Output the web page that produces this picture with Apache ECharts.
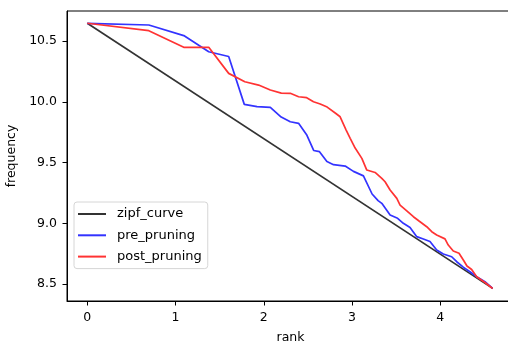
<!DOCTYPE html>
<html>
<head>
<meta charset="utf-8">
<script src="https://cdn.jsdelivr.net/npm/echarts@6/dist/echarts.min.js"></script>
<style>
  html, body { margin: 0; padding: 0; background: #fff; }
  #chart { width: 508px; height: 347px; }
</style>
</head>
<body>
<div id="chart"></div>
<script>
// log(rank) vs log(frequency)
const xTicks = [0, 1, 2, 3, 4];
const yTicks = [8.5, 9.0, 9.5, 10.0, 10.5];

const zipfX = [0, 4.593];
const zipfY = [10.646, 8.466];

const preX = [0, 0.697, 1.093, 1.376, 1.602, 1.779, 1.923, 2.074, 2.197, 2.300,
  2.394, 2.485, 2.565, 2.631, 2.715, 2.790, 2.922, 3.016, 3.129, 3.227,
  3.295, 3.337, 3.431, 3.516, 3.581, 3.657, 3.733, 3.808, 3.883, 3.959,
  4.034, 4.129, 4.186, 4.260, 4.336, 4.412, 4.506, 4.593];
const preY = [10.646, 10.632, 10.545, 10.412, 10.373, 9.979, 9.961, 9.955, 9.875, 9.836,
  9.823, 9.730, 9.600, 9.590, 9.509, 9.483, 9.472, 9.428, 9.391, 9.242,
  9.188, 9.165, 9.069, 9.042, 9.001, 8.966, 8.891, 8.872, 8.851, 8.781,
  8.748, 8.726, 8.685, 8.640, 8.603, 8.562, 8.521, 8.466];

const postX = [0, 0.697, 1.093, 1.376, 1.602, 1.785, 1.941, 2.074, 2.198, 2.300,
  2.394, 2.486, 2.563, 2.639, 2.718, 2.809, 2.865, 2.933, 2.979, 3.035,
  3.111, 3.167, 3.261, 3.337, 3.374, 3.431, 3.507, 3.544, 3.620, 3.695,
  3.759, 3.846, 3.903, 3.959, 4.053, 4.090, 4.147, 4.212, 4.268, 4.302,
  4.355, 4.412, 4.506, 4.593];
const postY = [10.646, 10.585, 10.448, 10.448, 10.234, 10.165, 10.138, 10.097, 10.072, 10.070,
  10.042, 10.034, 10.001, 9.982, 9.957, 9.908, 9.877, 9.768, 9.700, 9.620,
  9.535, 9.439, 9.419, 9.371, 9.343, 9.275, 9.206, 9.151, 9.104, 9.055,
  9.020, 8.973, 8.932, 8.905, 8.873, 8.822, 8.773, 8.754, 8.691, 8.650,
  8.621, 8.562, 8.514, 8.465];

const zip = (xs, ys) => xs.map((x, i) => [x, ys[i]]);

const chart = echarts.init(document.getElementById("chart"), null, { renderer: "canvas" });

const font = "DejaVu Sans";
const axisCommon = {
  axisLine: { show: true, onZero: false, lineStyle: { color: "#000", width: 1 } },
  splitLine: { show: false },
};

const lineSeries = (name, data, color) => ({
  name: name,
  type: "line",
  data: data,
  showSymbol: false,
  symbol: "none",
  animation: false,
  lineStyle: { color: color, width: 1.7 },
  itemStyle: { color: color },
});

chart.setOption({
  backgroundColor: "#fff",
  animation: false,
  grid: {
    left: 67, top: 11, right: -6, bottom: 46,
    containLabel: false,
    outerBoundsMode: "none",
    show: true, borderColor: "#000", borderWidth: 1,
  },
  legend: {
    orient: "vertical",
    left: 74,
    top: 202,
    icon: "rect",
    itemWidth: 28,
    itemHeight: 2,
    itemGap: 7.3,
    padding: [5, 6, 5, 4],
    backgroundColor: "rgba(255,255,255,0.8)",
    borderColor: "#d6d6d6",
    borderWidth: 1,
    borderRadius: 3,
    textStyle: { fontFamily: font, fontSize: 13, color: "#000", lineHeight: 14, padding: [0, 0, 0, 6] },
    data: ["zipf_curve", "pre_pruning", "post_pruning"],
  },
  xAxis: {
    type: "value",
    min: -0.23,
    max: 4.835,
    name: "rank",
    nameLocation: "middle",
    nameGap: 30.5,
    nameTextStyle: { fontFamily: font, fontSize: 12.5, color: "#000" },
    ...axisCommon,
    axisTick: { show: true, length: 4.5, lineStyle: { color: "#000" }, customValues: xTicks },
    axisLabel: { fontFamily: font, fontSize: 12.5, color: "#000", margin: 10, customValues: xTicks },
  },
  yAxis: {
    type: "value",
    min: 8.362,
    max: 10.747,
    name: "frequency",
    nameLocation: "middle",
    nameGap: 46,
    nameTextStyle: { fontFamily: font, fontSize: 12.5, color: "#000" },
    ...axisCommon,
    axisTick: { show: true, length: 4.5, lineStyle: { color: "#000" }, customValues: yTicks },
    axisLabel: {
      fontFamily: font, fontSize: 12.5, color: "#000", margin: 10,
      customValues: yTicks,
      formatter: (v) => v.toFixed(1),
    },
  },
  series: [
    lineSeries("zipf_curve", zip(zipfX, zipfY), "#333333"),
    lineSeries("pre_pruning", zip(preX, preY), "#3333ff"),
    lineSeries("post_pruning", zip(postX, postY), "#ff3333"),
  ],
});
</script>
</body>
</html>
